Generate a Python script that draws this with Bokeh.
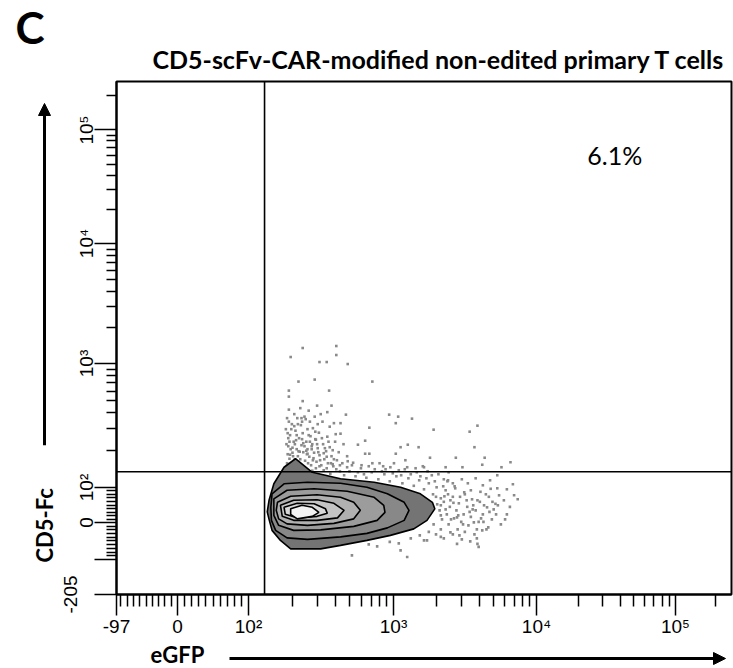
import numpy as np
from bokeh.plotting import figure
from bokeh.layouts import column, row
from bokeh.models import FixedTicker, Span, Label, Arrow, NormalHead, Range1d, LinearAxis
from bokeh.embed import file_html
from bokeh.resources import INLINE

# ---------------- scale definition (logicle display, 1024 channels) ----------------
x_scale_values = [-97, 0, 100, 1e3, 1e4, 1e5, 262143]
x_scale_channels = [0, 101.6, 219.8, 461.2, 699.3, 930.7, 1024]
y_scale_values = [-205, -100, 0, 100, 1e3, 1e4, 1e5, 262143]
y_scale_channels = [0, 69.9, 143.7, 213.6, 461.1, 700.6, 927.2, 1024]

# ---------------- ticks ----------------
x_major_values = [-97, 0, 100, 1000, 10000, 100000]
x_major_labels = ["-97", "0", "10²", "10³", "10⁴", "10⁵"]
x_minor_values = ([-90, -80, -70, -60, -50, -40, -30, -20, -10,
                   10, 20, 30, 40, 50, 60, 70, 80, 90]
                  + [200, 300, 400, 500, 600, 700, 800, 900]
                  + [2000, 3000, 4000, 5000, 6000, 7000, 8000, 9000]
                  + [20000, 30000, 40000, 50000, 60000, 70000, 80000, 90000, 200000])
y_major_values = [-205, -100, 0, 100, 1000, 10000, 100000]
y_major_labels = ["-205", "", "0", "10²", "10³", "10⁴", "10⁵"]
y_minor_values = x_minor_values

# ---------------- texts ----------------
panel_letter = "C"
title_text = "CD5-scFv-CAR-modified non-edited primary T cells"
x_label = "eGFP"
y_label = "CD5-Fc"

# ---------------- gates / statistics ----------------
gate_egfp = 129
gate_cd5fc = 134
upper_right_pct = "6.1%"

# ---------------- contour levels (channel units: eGFP, CD5-Fc) ----------------
level1_x = [279, 298, 326, 373, 429, 473, 506, 526, 530, 517, 495, 456, 417, 373, 340, 290, 273, 259, 254, 251, 254, 262]
level1_y = [254, 271, 244, 231, 224, 214, 201, 184, 171, 148, 131, 118, 108, 98, 91, 91, 108, 128, 150, 165, 188, 221]
level2_x = [259, 279, 318, 373, 417, 451, 479, 487, 479, 451, 417, 373, 318, 284, 265, 258, 257]
level2_y = [201, 221, 224, 222, 214, 201, 184, 168, 148, 133, 122, 115, 110, 113, 128, 148, 174]
level3_x = [262, 284, 329, 384, 429, 445, 447, 434, 395, 340, 295, 270, 262]
level3_y = [191, 208, 211, 206, 194, 178, 164, 148, 136, 129, 128, 138, 158]
level4_x = [268, 290, 334, 373, 395, 406, 395, 362, 318, 284, 270, 266]
level4_y = [184, 196, 199, 194, 184, 168, 151, 142, 138, 141, 151, 168]
level5_x = [273, 295, 334, 362, 379, 368, 334, 295, 276]
level5_y = [178, 188, 189, 182, 168, 153, 148, 148, 156]
level6_x = [279, 301, 329, 348, 351, 334, 301, 281]
level6_y = [174, 182, 181, 171, 162, 156, 153, 160]
level7_x = [290, 309, 326, 337, 326, 301, 290]
level7_y = [171, 178, 174, 164, 156, 151, 160]
level_colors = ["#747474", "#888888", "#9c9c9c", "#b0b0b0", "#c4c4c4", "#d8d8d8", "#f2f2f2"]

# ---------------- individual events outside the outer contour (channel units) ----------------
dots_x = [310, 366, 366, 290, 338, 350, 385, 303, 330, 426, 287, 354, 287, 310, 334, 358, 287, 320, 351, 382,
          454, 469, 492, 465, 362, 373, 601, 421, 528, 588, 373, 414, 402, 485, 473, 503, 596, 414, 421, 465,
          384, 522, 565, 613, 481, 656, 609, 641, 576, 548, 456, 512, 484, 662, 634, 623, 631, 617, 619, 609,
          595, 567, 601,
          284, 288, 291, 293, 286, 297, 300, 295, 289, 302, 305, 308, 304, 298, 292, 311, 314, 316, 310, 307,
          301, 318, 321, 324, 320, 326, 329, 327, 333, 335, 331, 338, 341, 337, 344, 346, 349, 343, 352, 355,
          351, 358, 361, 364, 367, 370, 296, 315, 340, 287, 285, 299, 312, 326, 288, 282, 306, 322, 335, 355,
          365, 372, 378, 385,
          283, 286, 290, 294, 297, 300, 303, 306, 309, 313, 317, 319, 322, 325, 328, 331, 334, 336, 339, 342,
          347, 350, 353, 357, 360, 296, 309, 284, 318, 330,
          332, 345, 356, 366, 379, 388, 398, 407, 416, 425, 436, 446, 455, 466, 476, 486, 495, 504, 512, 520,
          527, 533, 540, 392, 420, 448, 470, 500, 525, 545, 360, 438, 510, 553, 560, 548, 540,
          338, 350, 372, 384, 402, 412, 430, 442, 460, 474, 490, 506, 516, 530, 544, 552, 556,
          538, 545, 542, 550, 555, 553, 560, 562, 566, 570, 568, 574, 578, 580, 584, 586, 590, 592, 596, 598,
          603, 606, 610, 612, 616, 620, 625, 628, 634, 640, 528, 520, 532, 545, 556, 575, 585, 564, 552, 598,
          622, 645, 650, 660, 505, 512, 490, 470,
          534, 540, 548, 557, 561, 569, 572, 577, 583, 588, 594, 600, 605, 611, 615, 626, 632, 637, 540, 560,
          580, 600, 532, 546, 575, 590, 610, 650, 655, 668,
          392, 484, 434, 473, 517, 540, 567, 601, 455, 420,
          289, 293, 299, 305, 311, 318, 325, 332, 291, 302, 313, 323, 285, 297, 308, 316, 327, 345, 362, 376,
          394, 408, 426, 444, 462, 480, 498, 518, 536, 551, 563, 579, 593, 607, 621, 635, 647, 571, 589, 603]
dots_y = [492, 496, 478, 474, 464, 464, 460, 425, 429, 425, 407, 407, 395, 386, 377, 377, 369, 367, 364, 359,
          359, 355, 351, 342, 342, 342, 337, 333, 329, 325, 321, 307, 299, 299, 294, 294, 294, 281, 281, 281,
          276, 273, 273, 273, 268, 264, 259, 254, 254, 254, 254, 254, 254, 198, 238, 211, 181, 174, 134, 128,
          144, 154, 188,
          262, 271, 258, 283, 296, 266, 290, 305, 318, 276, 260, 298, 312, 327, 340, 284, 267, 305, 322, 338,
          352, 290, 275, 258, 318, 300, 283, 332, 265, 292, 310, 278, 258, 323, 300, 270, 286, 345, 262, 294,
          315, 276, 256, 305, 268, 284, 360, 350, 360, 345, 280, 246, 250, 247, 305, 330, 372, 345, 340, 335,
          320, 258, 300, 266,
          300, 312, 290, 276, 300, 318, 286, 270, 310, 296, 280, 262, 305, 290, 272, 325, 300, 284, 268, 312,
          292, 275, 305, 262, 288, 336, 345, 352, 330, 355,
          252, 248, 241, 250, 238, 246, 236, 252, 233, 244, 230, 240, 226, 236, 222, 232, 217, 228, 210, 222,
          200, 214, 192, 258, 256, 250, 248, 244, 238, 230, 260, 262, 256, 244, 222, 208, 178,
          256, 252, 246, 254, 244, 240, 250, 246, 242, 238, 240, 236, 232, 226, 216, 200, 188,
          168, 185, 150, 160, 175, 140, 195, 152, 168, 182, 130, 145, 160, 200, 175, 138, 155, 190, 120, 168,
          145, 205, 160, 178, 130, 195, 150, 170, 212, 140, 140, 125, 120, 112, 124, 110, 222, 212, 228, 232,
          228, 188, 160, 220, 118, 108, 112, 102,
          180, 158, 170, 150, 183, 158, 195, 140, 188, 165, 178, 130, 185, 145, 200, 185, 160, 198, 130, 120,
          125, 112, 195, 196, 230, 208, 218, 210, 175, 190,
          78, 75, 96, 88, 108, 115, 101, 101, 105, 100,
          279, 293, 308, 285, 302, 281, 296, 309, 330, 340, 355, 316, 322, 270, 352, 287, 268, 282, 270, 262,
          263, 258, 262, 256, 262, 250, 252, 246, 240, 226, 216, 204, 170, 152, 165, 178, 150, 118, 106, 95]


def _u(v):
    v = np.asarray(v, dtype=float)
    return np.where(v <= 100, v / 100.0, 1 + np.log10(np.maximum(v, 100) / 100.0))


def to_channel(v, values, channels):
    return np.round(np.interp(_u(v), _u(values), channels), 2)


x_major = [float(c) for c in to_channel(x_major_values, x_scale_values, x_scale_channels)]
x_minor = [float(c) for c in to_channel(x_minor_values, x_scale_values, x_scale_channels)]
y_major = [float(c) for c in to_channel(y_major_values, y_scale_values, y_scale_channels)]
y_minor = [float(c) for c in to_channel(y_minor_values, y_scale_values, y_scale_channels)]

TICK_FONT = "Liberation Sans"
TEXT_FONT = "Lato"


def blank_figure(w, h):
    f = figure(width=w, height=h, x_range=Range1d(0, w), y_range=Range1d(0, h),
               output_backend="svg", toolbar_location=None, x_axis_type=None, y_axis_type=None,
               min_border_left=0, min_border_right=0, min_border_top=0, min_border_bottom=0)
    f.grid.visible = False
    f.outline_line_color = None
    f.background_fill_color = "white"
    f.border_fill_color = "white"
    return f


# ================= main plot =================
LEFT_W = 57
TOP_H = 79
MAIN_H = 560
BOTTOM_H = 668 - TOP_H - MAIN_H
p = figure(width=733 - LEFT_W, height=MAIN_H, x_range=Range1d(0, 1024), y_range=Range1d(0, 1024),
           output_backend="svg", toolbar_location=None,
           min_border_left=116 - LEFT_W, min_border_right=2, min_border_top=2, min_border_bottom=MAIN_H - 515)
p.grid.visible = False
p.background_fill_color = "white"
p.border_fill_color = "white"
p.outline_line_color = "black"
p.outline_line_width = 2

for ax in (p.xaxis[0], p.yaxis[0]):
    ax.axis_line_color = "black"
    ax.axis_line_width = 2
    ax.major_tick_line_color = "black"
    ax.minor_tick_line_color = "black"
    ax.major_tick_line_width = 1.5
    ax.minor_tick_line_width = 1.5
    ax.major_tick_in = 0
    ax.minor_tick_in = 0
    ax.major_label_text_font = TICK_FONT
    ax.major_label_text_font_size = "19px"
    ax.major_label_text_color = "black"

p.xaxis.ticker = FixedTicker(ticks=x_major, minor_ticks=x_minor)
p.xaxis.major_tick_out = 21
p.xaxis.minor_tick_out = 12
p.xaxis.major_label_standoff = 0
p.xaxis.major_label_overrides = dict(zip(x_major, x_major_labels))

p.yaxis.ticker = FixedTicker(ticks=y_major, minor_ticks=y_minor)
p.yaxis.major_tick_out = 22
p.yaxis.minor_tick_out = 10
p.yaxis.major_label_standoff = -3
p.yaxis.major_label_orientation = "vertical"
p.yaxis.major_label_overrides = {t: (lab if lab != "-205" else "") for t, lab in zip(y_major, y_major_labels)}

# the lowest y tick label sits one row further out, as in the reference
low_label_axis = LinearAxis(ticker=FixedTicker(ticks=[y_major[0]], minor_ticks=[]),
                            major_label_overrides={y_major[0]: y_major_labels[0]},
                            axis_line_color=None, major_tick_line_color=None, minor_tick_line_color=None,
                            major_tick_in=0, major_tick_out=0, minor_tick_in=0, minor_tick_out=0,
                            major_label_standoff=-3, major_label_orientation="vertical",
                            major_label_text_font=TICK_FONT, major_label_text_font_size="19px",
                            major_label_text_color="black")
p.add_layout(low_label_axis, "left")

# events
p.scatter(dots_x, dots_y, marker="square", size=2.6, fill_color="#8a8a8a", line_color=None)

# filled contours
levels_x = [level1_x, level2_x, level3_x, level4_x, level5_x, level6_x, level7_x]
levels_y = [level1_y, level2_y, level3_y, level4_y, level5_y, level6_y, level7_y]
p.patches(levels_x, levels_y, fill_color=level_colors, line_color="black", line_width=1.6)

# quadrant gates
gx = float(to_channel(gate_egfp, x_scale_values, x_scale_channels))
gy = float(to_channel(gate_cd5fc, y_scale_values, y_scale_channels))
p.add_layout(Span(location=gx, dimension="height", line_color="black", line_width=1.6))
p.add_layout(Span(location=gy, dimension="width", line_color="black", line_width=1.6))

p.add_layout(Label(x=784, y=878, text=upper_right_pct, text_font=TEXT_FONT, text_font_size="25px",
                   text_align="left", text_baseline="middle", text_color="black"))

# ================= top strip: panel letter + title =================
top = blank_figure(733, TOP_H)
top.add_layout(Label(x=15, y=TOP_H - 26, text=panel_letter, text_font=TEXT_FONT, text_font_style="bold",
                     text_font_size="44px", text_align="left", text_baseline="middle", text_color="black"))
top.add_layout(Label(x=152, y=TOP_H - 58.5, text=title_text, text_font=TEXT_FONT, text_font_style="bold",
                     text_font_size="25px", text_align="left", text_baseline="middle", text_color="black"))

# ================= left strip: y-axis title + arrow =================
left = blank_figure(LEFT_W, MAIN_H)
y0 = TOP_H + MAIN_H  # page row of the strip bottom
left.add_layout(Arrow(end=NormalHead(size=12, fill_color="black", line_color="black", line_width=1),
                      x_start=44, y_start=y0 - 476, x_end=44, y_end=y0 - 103, line_width=3, line_color="black"))
left.add_layout(Label(x=44, y=y0 - 604, text=y_label, text_font=TEXT_FONT, text_font_style="bold",
                      text_font_size="22px", angle=np.pi / 2, text_align="left",
                      text_baseline="middle", text_color="black"))

# ================= bottom strip: x-axis title + arrow =================
bottom = blank_figure(733, BOTTOM_H)
bottom.add_layout(Arrow(end=NormalHead(size=12, fill_color="black", line_color="black", line_width=1),
                        x_start=229, y_start=10, x_end=725, y_end=10, line_width=3, line_color="black"))
bottom.add_layout(Label(x=177, y=14, text=x_label, text_font=TEXT_FONT, text_font_style="bold",
                        text_font_size="22px", text_align="center", text_baseline="middle",
                        text_color="black"))

layout = column(top, row(left, p), bottom)
open("out.html", "w").write(file_html(layout, INLINE))
